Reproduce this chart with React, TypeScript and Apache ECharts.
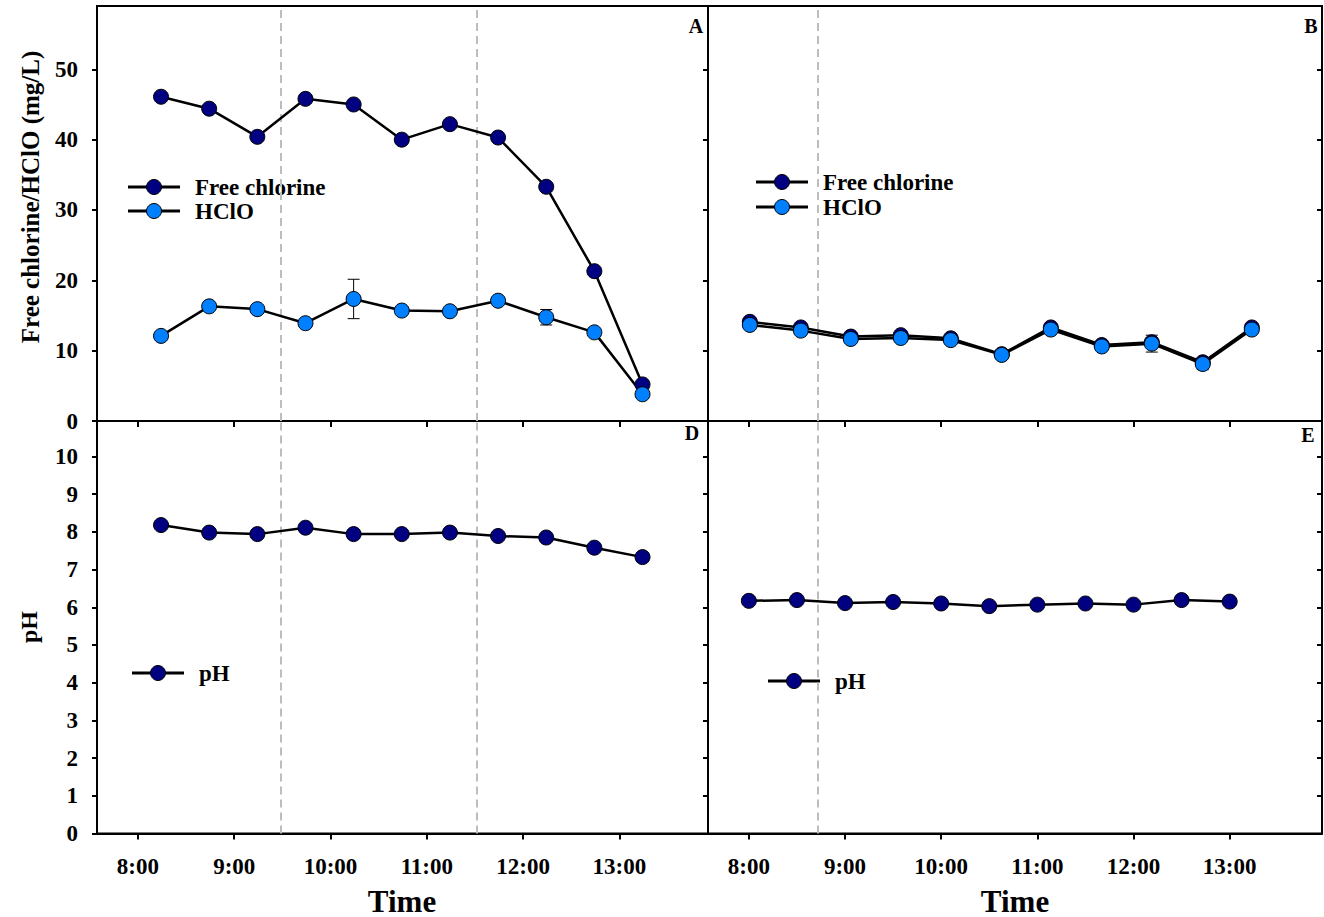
import React, { useEffect, useRef } from "react";
import * as echarts from "echarts";

// ---- Data ----
const timesA = [8.24, 8.74, 9.24, 9.74, 10.24, 10.74, 11.24, 11.74, 12.24, 12.74, 13.24];
const freeA = [46.1, 44.4, 40.4, 45.8, 45.0, 40.0, 42.2, 40.3, 33.3, 21.3, 5.2];
const freeAErr = [0.2, 0.2, 0.3, 0.2, 0.3, 0.2, 0.2, 0.2, 0.3, 0.3, 0.3];
const hclA = [12.1, 16.3, 15.9, 13.9, 17.35, 15.7, 15.6, 17.1, 14.75, 12.6, 3.8];
const hclAErr = [0.2, 0.3, 0.2, 0.2, 2.8, 0.2, 0.2, 0.2, 1.1, 0.2, 0.2];

const timesB = [8.01, 8.54, 9.06, 9.58, 10.1, 10.63, 11.14, 11.67, 12.19, 12.72, 13.23];
const freeB = [14.1, 13.3, 12.0, 12.2, 11.75, 9.5, 13.3, 10.8, 11.2, 8.35, 13.3];
const freeBErr = [0.2, 0.2, 0.2, 0.2, 0.2, 0.2, 0.2, 0.2, 0.6, 0.5, 0.2];
const hclB = [13.66, 12.85, 11.66, 11.8, 11.5, 9.4, 13.0, 10.6, 11.0, 8.1, 13.0];
const hclBErr = [0.2, 0.2, 0.3, 0.3, 0.2, 0.2, 0.2, 0.2, 1.2, 0.8, 0.2];

const timesD = [8.24, 8.74, 9.24, 9.74, 10.24, 10.74, 11.24, 11.74, 12.24, 12.74, 13.24];
const phD = [8.18, 7.98, 7.94, 8.11, 7.94, 7.94, 7.98, 7.89, 7.85, 7.58, 7.33];
const phDErr = [0.05, 0.03, 0.03, 0.03, 0.12, 0.03, 0.03, 0.03, 0.1, 0.05, 0.12];

const timesE = [8, 8.5, 9, 9.5, 10, 10.5, 11, 11.5, 12, 12.5, 13];
const phE = [6.17, 6.19, 6.11, 6.14, 6.1, 6.03, 6.07, 6.1, 6.07, 6.19, 6.15];
const phEErr = [0.03, 0.03, 0.03, 0.03, 0.03, 0.03, 0.03, 0.03, 0.03, 0.03, 0.03];

const hourTicks = [8, 9, 10, 11, 12, 13];
const chlorineTicks = [0, 10, 20, 30, 40, 50];
const phTicks = [0, 1, 2, 3, 4, 5, 6, 7, 8, 9, 10];
const dashedLeft = [9.48, 11.52];
const dashedRight = [8.72];

const NAVY = "#000080";
const LIGHT = "#0080ff";
const FONT = "'Liberation Serif', 'Times New Roman', serif";

const pairs = (xs: number[], ys: number[]) => xs.map((x, i) => [x, ys[i]]);
const triples = (xs: number[], ys: number[], es: number[]) => xs.map((x, i) => [x, ys[i], es[i]]);

export default function App() {
  const ref = useRef<HTMLDivElement>(null);
  useEffect(() => {
    if (!ref.current) return;
    const chart = echarts.init(ref.current, null, { renderer: "svg" });

    const tickStyle = { color: "#000", width: 2 };
    const labelFont = { fontFamily: FONT, fontWeight: "bold" as const, fontSize: 23, color: "#000" };

    const xAxisBase = (grid: number, max: number, showLabel: boolean) => ({
      type: "value",
      gridIndex: grid,
      min: 7.575,
      max,
      splitLine: { show: false },
      axisLine: { show: true, onZero: false, lineStyle: { color: "#000", width: 2 } },
      axisTick: { show: true, inside: false, length: 6, lineStyle: tickStyle, customValues: hourTicks },
      axisLabel: {
        show: showLabel,
        customValues: hourTicks,
        formatter: (v: number) => `${Math.round(v)}:00`,
        margin: 21,
        ...labelFont,
      },
    });

    const yAxisBase = (grid: number, max: number, ticks: number[], position: string, inside: boolean, showLabel: boolean) => ({
      type: "value",
      gridIndex: grid,
      min: 0,
      max,
      position,
      splitLine: { show: false },
      axisLine: { show: !inside, onZero: false, lineStyle: { color: "#000", width: 2 } },
      axisTick: { show: true, inside, length: 5, lineStyle: tickStyle, customValues: ticks },
      axisLabel: { show: showLabel, customValues: ticks, margin: 19, ...labelFont },
    });

    const lineSeries = (name: string, xi: number, yi: number, data: number[][], color: string, extra: any = {}) => ({
      type: "line",
      name,
      xAxisIndex: xi,
      yAxisIndex: yi,
      data,
      symbol: "circle",
      symbolSize: 15,
      z: 3,
      itemStyle: { color, borderColor: "#000", borderWidth: 1 },
      lineStyle: { color: "#000", width: 2.5 },
      ...extra,
    });

    const errSeries = (xi: number, yi: number, data: number[][]) => ({
      type: "custom",
      xAxisIndex: xi,
      yAxisIndex: yi,
      z: 2,
      data,
      encode: { x: 0, y: 1 },
      renderItem: (params: any, api: any) => {
        const x = api.value(0);
        const y = api.value(1);
        const e = api.value(2);
        const top = api.coord([x, y + e]);
        const bot = api.coord([x, y - e]);
        const w = 6;
        const st = { stroke: "#000", lineWidth: 1 };
        return {
          type: "group",
          children: [
            { type: "line", shape: { x1: top[0], y1: top[1], x2: bot[0], y2: bot[1] }, style: st },
            { type: "line", shape: { x1: top[0] - w, y1: top[1], x2: top[0] + w, y2: top[1] }, style: st },
            { type: "line", shape: { x1: bot[0] - w, y1: bot[1], x2: bot[0] + w, y2: bot[1] }, style: st },
          ],
        };
      },
    });

    const markLine = (vals: number[]) => ({
      symbol: "none",
      silent: true,
      z: 1,
      label: { show: false },
      lineStyle: { type: [8, 5], color: "#bdbdbd", width: 2 },
      data: vals.map((v) => ({ xAxis: v })),
    });

    const legendItem = (x: number, y: number, color: string, text: string) => [
      { type: "line", shape: { x1: x - 26, y1: y, x2: x + 26, y2: y }, style: { stroke: "#000", lineWidth: 3 } },
      { type: "circle", shape: { cx: x, cy: y, r: 7.5 }, style: { fill: color, stroke: "#000", lineWidth: 1 } },
      {
        type: "text",
        x: x + 41,
        y,
        style: { text, fontFamily: FONT, fontWeight: "bold", fontSize: 23, fill: "#000", align: "left", verticalAlign: "middle" },
      },
    ];

    const txt = (x: number, y: number, text: string, size: number, extra: any = {}) => ({
      type: "text",
      x,
      y,
      ...extra,
      style: { text, fontFamily: FONT, fontWeight: "bold", fontSize: size, fill: "#000", align: "center", verticalAlign: "middle" },
    });

    const gridBase = { show: true, borderColor: "#000", borderWidth: 2, backgroundColor: "transparent", containLabel: false };

    chart.setOption({
      animation: false,
      backgroundColor: "#fff",
      grid: [
        { ...gridBase, left: 97, top: 6, width: 611, height: 415 },
        { ...gridBase, left: 708, top: 6, width: 614, height: 415 },
        { ...gridBase, left: 97, top: 421, width: 611, height: 412.5 },
        { ...gridBase, left: 708, top: 421, width: 614, height: 412.5 },
      ],
      xAxis: [
        xAxisBase(0, 13.92, false),
        xAxisBase(1, 13.96, false),
        xAxisBase(2, 13.92, true),
        xAxisBase(3, 13.96, true),
      ],
      yAxis: [
        yAxisBase(0, 59, chlorineTicks, "left", false, true), // 0 A left
        yAxisBase(0, 59, chlorineTicks, "right", true, false), // 1 A right
        yAxisBase(1, 59, chlorineTicks, "right", true, false), // 2 B right
        yAxisBase(2, 10.94, phTicks, "left", false, true), // 3 D left
        yAxisBase(2, 10.94, phTicks, "right", true, false), // 4 D right
        yAxisBase(3, 10.94, phTicks, "right", true, false), // 5 E right
      ],
      series: [
        errSeries(0, 0, triples(timesA, freeA, freeAErr)),
        errSeries(0, 0, triples(timesA, hclA, hclAErr)),
        lineSeries("Free chlorine", 0, 0, pairs(timesA, freeA), NAVY, { markLine: markLine(dashedLeft) }),
        lineSeries("HClO", 0, 0, pairs(timesA, hclA), LIGHT),

        errSeries(1, 2, triples(timesB, freeB, freeBErr)),
        errSeries(1, 2, triples(timesB, hclB, hclBErr)),
        lineSeries("Free chlorine", 1, 2, pairs(timesB, freeB), NAVY, { markLine: markLine(dashedRight) }),
        lineSeries("HClO", 1, 2, pairs(timesB, hclB), LIGHT),

        errSeries(2, 3, triples(timesD, phD, phDErr)),
        lineSeries("pH", 2, 3, pairs(timesD, phD), NAVY, { markLine: markLine(dashedLeft) }),

        errSeries(3, 5, triples(timesE, phE, phEErr)),
        lineSeries("pH", 3, 5, pairs(timesE, phE), NAVY, { markLine: markLine(dashedRight) }),
      ],
      graphic: [
        ...legendItem(154, 187, NAVY, "Free chlorine"),
        ...legendItem(154, 211, LIGHT, "HClO"),
        ...legendItem(782, 182, NAVY, "Free chlorine"),
        ...legendItem(782, 207, LIGHT, "HClO"),
        ...legendItem(158, 673, NAVY, "pH"),
        ...legendItem(794, 681, NAVY, "pH"),
        txt(696, 26, "A", 20),
        txt(1311, 26, "B", 20),
        txt(692, 433, "D", 20),
        txt(1308, 435, "E", 20),
        txt(402, 901, "Time", 31),
        txt(1015, 901, "Time", 31),
        txt(30, 197, "Free chlorine/HClO (mg/L)", 25, { rotation: Math.PI / 2 }),
        txt(29, 627, "pH", 24, { rotation: Math.PI / 2 }),
      ],
    });

    return () => chart.dispose();
  }, []);

  return (
    <div
      ref={ref}
      style={{ position: "fixed", left: 0, top: 0, width: 1324, height: 917, background: "#fff" }}
    />
  );
}
